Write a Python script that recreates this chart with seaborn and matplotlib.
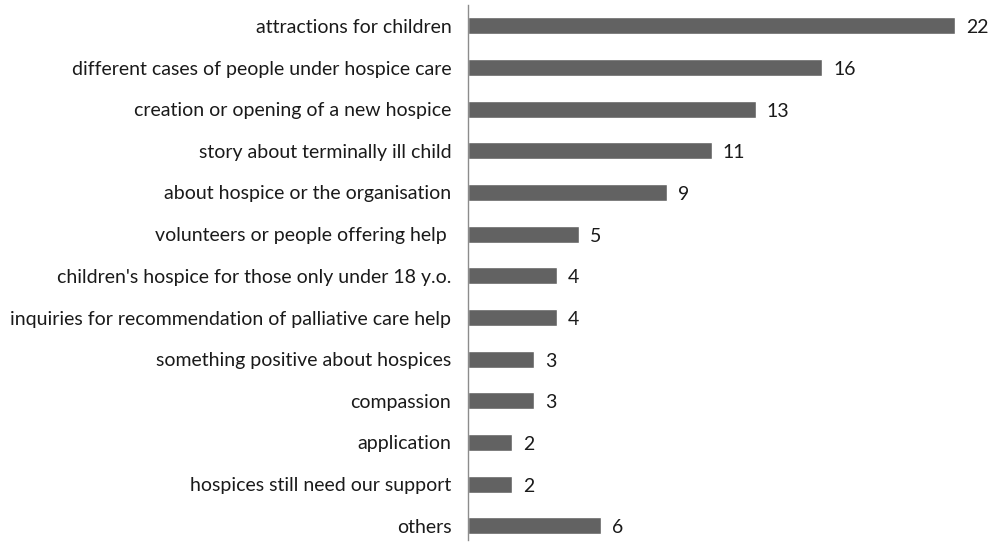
import matplotlib
matplotlib.use("Agg")
import matplotlib.pyplot as plt
import seaborn as sns
import pandas as pd

categories = [
    "attractions for children",
    "different cases of people under hospice care",
    "creation or opening of a new hospice",
    "story about terminally ill child",
    "about hospice or the organisation",
    "volunteers or people offering help ",
    "children's hospice for those only under 18 y.o.",
    "inquiries for recommendation of palliative care help",
    "something positive about hospices",
    "compassion",
    "application",
    "hospices still need our support",
    "others",
]
counts = [22, 16, 13, 11, 9, 5, 4, 4, 3, 3, 2, 2, 6]

df = pd.DataFrame({"topic": categories, "count": counts})

sns.set_theme(style="white")
plt.rcParams["font.family"] = ["Lato", "DejaVu Sans"]

fig = plt.figure(figsize=(9.9, 5.42), dpi=100)
ax = fig.add_axes([468 / 990, 1 - 540 / 542, (955 - 468) / 990, (540 - 5) / 542])

sns.barplot(data=df, x="count", y="topic", orient="h", color="#626262",
            saturation=1, width=0.41, ax=ax)

ax.set_xlim(0, 22)
ax.set_ylim(12.34, -0.5)
ax.set_xlabel("")
ax.set_ylabel("")
ax.set_xticks([])
ax.tick_params(axis="y", length=0, pad=12, labelsize=14, labelcolor="#1a1a1a")
for side in ["top", "right", "bottom"]:
    ax.spines[side].set_visible(False)
ax.spines["left"].set_color("#8c8c8c")
ax.spines["left"].set_linewidth(1.0)

for i, v in enumerate(counts):
    ax.text(v + 0.5, i + 0.05, str(v), va="center", ha="left", fontsize=14,
            color="#1a1a1a", clip_on=False)

fig.savefig("out.png", dpi=100, facecolor="white")
